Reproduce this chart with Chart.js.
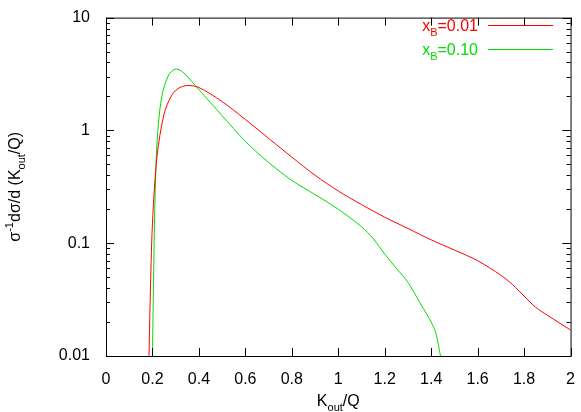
<!DOCTYPE html>
<html lang="en">
<head>
<meta charset="UTF-8">
<title>Kout/Q distribution</title>
<style>
  body { margin: 0; background: #fff; }
  #wrap { width: 581px; height: 412px; }
</style>
</head>
<body>
<div id="wrap"><canvas id="myChart"></canvas></div>
<script src="https://cdn.jsdelivr.net/npm/chart.js"></script>
<script>
const redX = [0.185, 0.19, 0.2, 0.22, 0.25, 0.28, 0.31, 0.35, 0.4, 0.5, 0.6, 0.7, 0.8, 0.9, 1.0, 1.1, 1.2, 1.3, 1.4, 1.5, 1.6, 1.7, 1.75, 1.8, 1.85, 1.9, 2.0];
const redY = [0.01, 0.03, 0.15, 0.6, 1.4, 2.0, 2.35, 2.5, 2.4, 1.8, 1.25, 0.85, 0.58, 0.4, 0.29, 0.22, 0.17, 0.135, 0.107, 0.087, 0.07, 0.052, 0.043, 0.034, 0.027, 0.023, 0.017];
const greenX = [0.2, 0.205, 0.21, 0.22, 0.24, 0.27, 0.3, 0.33, 0.37, 0.4, 0.5, 0.6, 0.7, 0.8, 0.9, 1.0, 1.1, 1.15, 1.2, 1.25, 1.3, 1.35, 1.4, 1.42, 1.44];
const greenY = [0.01, 0.05, 0.2, 0.8, 2.0, 3.1, 3.5, 3.3, 2.7, 2.3, 1.35, 0.8, 0.52, 0.36, 0.27, 0.2, 0.14, 0.11, 0.08, 0.06, 0.045, 0.03, 0.02, 0.016, 0.01];
const xTicks = [0, 0.2, 0.4, 0.6, 0.8, 1, 1.2, 1.4, 1.6, 1.8, 2];
const yTicks = [0.01, 0.1, 1, 10];
const series = [
  { name: '0.01', xs: redX, ys: redY, color: '#ff0000' },
  { name: '0.10', xs: greenX, ys: greenY, color: '#00dd00' }
];

const FONT = '16px "Liberation Sans", Arial, sans-serif';
const SMALL = '11px "Liberation Sans", Arial, sans-serif';

// draws a string made of [text, mode] pieces, mode: 0 normal, 1 sub, -1 sup
function richText(ctx, parts, x, y) {
  let cx = x;
  parts.forEach(([t, m]) => {
    ctx.font = m ? SMALL : FONT;
    ctx.fillText(t, cx, y + (m === 1 ? 5 : m === -1 ? -7 : 0));
    cx += ctx.measureText(t).width;
  });
  return cx - x;
}
function richWidth(ctx, parts) {
  let w = 0;
  parts.forEach(([t, m]) => { ctx.font = m ? SMALL : FONT; w += ctx.measureText(t).width; });
  return w;
}

const decor = {
  id: 'decor',
  afterDraw(chart) {
    const ctx = chart.ctx, a = chart.chartArea;
    const xs = chart.scales.x, ys = chart.scales.y;
    ctx.save();
    ctx.strokeStyle = '#000';
    ctx.lineWidth = 1;
    ctx.strokeRect(a.left + 0.5, a.top + 0.5, a.right - a.left, a.bottom - a.top);
    ctx.beginPath();
    xTicks.forEach(v => {
      const p = Math.round(xs.getPixelForValue(v)) + 0.5;
      ctx.moveTo(p, a.bottom); ctx.lineTo(p, a.bottom - 8);
      ctx.moveTo(p, a.top); ctx.lineTo(p, a.top + 8);
    });
    for (let d = 0.01; d < 10; d *= 10) {
      for (let k = 1; k <= 10; k++) {
        const p = Math.round(ys.getPixelForValue(d * k)) + 0.5;
        const len = (k === 1 || k === 10) ? 8 : 4;
        ctx.moveTo(a.left, p); ctx.lineTo(a.left + len, p);
        ctx.moveTo(a.right, p); ctx.lineTo(a.right - len, p);
      }
    }
    ctx.stroke();
    ctx.restore();

    // legend
    series.forEach((s, i) => {
      const y = 31 + i * 24;
      ctx.save();
      ctx.textBaseline = 'alphabetic';
      ctx.fillStyle = s.color;
      const parts = [['x', 0], ['B', 1], ['=' + s.name, 0]];
      const w = richWidth(ctx, parts);
      richText(ctx, parts, 478 - w, y);
      ctx.beginPath();
      ctx.strokeStyle = s.color;
      ctx.lineWidth = 1;
      ctx.moveTo(488, y - 5.5); ctx.lineTo(553, y - 5.5);
      ctx.stroke();
      ctx.restore();
    });

    // axis titles
    ctx.save();
    ctx.fillStyle = '#000';
    ctx.textBaseline = 'alphabetic';
    const xt = [['K', 0], ['out', 1], ['/Q', 0]];
    richText(ctx, xt, (a.left + a.right) / 2 - richWidth(ctx, xt) / 2, 406);
    const yt = [['σ', 0], ['-1', -1], ['dσ/d (K', 0], ['out', 1], ['/Q)', 0]];
    ctx.translate(20, (a.top + a.bottom) / 2);
    ctx.rotate(-Math.PI / 2);
    richText(ctx, yt, -richWidth(ctx, yt) / 2, 0);
    ctx.restore();
  }
};

new Chart(document.getElementById('myChart'), {
  type: 'line',
  data: {
    datasets: series.map(s => ({
      label: s.name,
      data: s.xs.map((x, i) => ({ x: x, y: s.ys[i] })),
      borderColor: s.color,
      borderWidth: 1,
      pointRadius: 0,
      tension: 0.3,
      fill: false
    }))
  },
  options: {
    responsive: true,
    maintainAspectRatio: false,
    animation: false,
    layout: { padding: { top: 4, right: 8, bottom: 0, left: 0 } },
    plugins: { legend: { display: false }, tooltip: { enabled: false } },
    scales: {
      x: {
        type: 'linear', min: 0, max: 2,
        grid: { display: false },
        border: { display: false },
        afterBuildTicks: s => { s.ticks = xTicks.map(v => ({ value: v })); },
        afterFit: s => { s.height = 56; },
        ticks: { color: '#000', font: { size: 16, family: '"Liberation Sans", Arial' }, padding: 6, maxRotation: 0, callback: v => String(v) }
      },
      y: {
        type: 'logarithmic', min: 0.01, max: 10,
        grid: { display: false },
        border: { display: false },
        afterBuildTicks: s => { s.ticks = yTicks.map(v => ({ value: v })); },
        afterFit: s => { s.width = 106; },
        ticks: { color: '#000', font: { size: 16, family: '"Liberation Sans", Arial' }, padding: 8, callback: v => String(v) }
      }
    }
  },
  plugins: [decor]
});
</script>
</body>
</html>
